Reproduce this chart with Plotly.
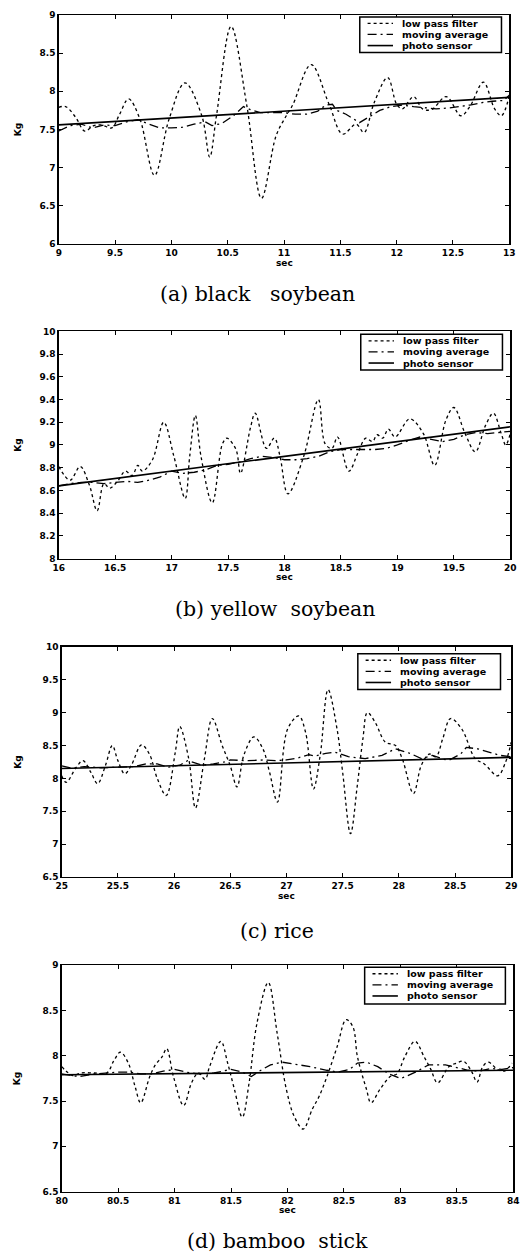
import plotly.graph_objects as go

# ---------------- data ----------------
series_names = ["low pass filter", "moving average", "photo sensor"]
captions = ["(a) black\u00a0\u00a0\u00a0soybean", "(b) yellow\u00a0\u00a0soybean", "(c) rice",
            "(d) bamboo\u00a0\u00a0stick"]

# (a) black soybean
a_lp_t = [9.0, 9.06, 9.15, 9.23, 9.31, 9.38, 9.47, 9.54, 9.62, 9.72, 9.85, 9.98, 10.12, 10.27, 10.34, 10.40,
          10.53, 10.67, 10.80, 10.93, 11.02, 11.08, 11.24, 11.40, 11.52, 11.64, 11.71, 11.80, 11.92, 12.00,
          12.05, 12.15, 12.23, 12.31, 12.44, 12.57, 12.65, 12.77, 12.87, 12.93, 13.0]
a_lp_y = [7.79, 7.80, 7.66, 7.48, 7.55, 7.56, 7.52, 7.70, 7.90, 7.64, 6.90, 7.64, 8.11, 7.68, 7.14, 7.68,
          8.85, 7.81, 6.60, 7.42, 7.68, 7.83, 8.35, 7.83, 7.44, 7.57, 7.46, 7.85, 8.18, 7.83,
          7.77, 7.93, 7.77, 7.76, 7.93, 7.68, 7.80, 8.12, 7.77, 7.68, 7.94]
a_ma_t = [9.0, 9.1, 9.2, 9.3, 9.4, 9.5, 9.6, 9.7, 9.8, 9.9, 10.0, 10.1, 10.2, 10.3, 10.36, 10.45, 10.55,
          10.64, 10.7, 10.79, 10.9, 11.0, 11.1, 11.2, 11.3, 11.37, 11.43, 11.47, 11.55, 11.67, 11.75, 11.85,
          11.95, 12.05, 12.15, 12.25, 12.35, 12.45, 12.55, 12.65, 12.75, 12.85, 12.95, 13.0]
a_ma_y = [7.48, 7.55, 7.57, 7.52, 7.56, 7.55, 7.60, 7.63, 7.57, 7.52, 7.52, 7.53, 7.57, 7.60, 7.55, 7.58, 7.68,
          7.80, 7.76, 7.72, 7.72, 7.72, 7.70, 7.70, 7.74, 7.82, 7.83, 7.75, 7.70, 7.59, 7.66, 7.75,
          7.80, 7.82, 7.80, 7.78, 7.77, 7.78, 7.80, 7.82, 7.85, 7.87, 7.88, 7.95]
a_ps_t = [9.0, 13.0]
a_ps_y = [7.56, 7.92]

# (b) yellow soybean
b_lp_t = [16.0, 16.1, 16.19, 16.27, 16.34, 16.40, 16.45, 16.52, 16.59, 16.65, 16.70, 16.74, 16.83, 16.93,
          17.02, 17.12, 17.16, 17.21, 17.26, 17.36, 17.45, 17.49, 17.57, 17.61, 17.70, 17.74, 17.84, 17.91,
          17.96, 18.03, 18.17, 18.30, 18.36, 18.42, 18.47, 18.57, 18.65, 18.72, 18.78, 18.82, 18.87, 18.92,
          18.98, 19.11, 19.23, 19.33, 19.43, 19.50, 19.60, 19.69, 19.78, 19.85, 19.92, 19.96, 20.0]
b_lp_y = [8.81, 8.69, 8.81, 8.65, 8.42, 8.66, 8.62, 8.68, 8.77, 8.73, 8.82, 8.77, 8.87, 9.20,
          8.90, 8.53, 8.90, 9.26, 8.90, 8.49, 9.01, 9.06, 8.96, 8.75, 9.16, 9.28, 8.97, 9.06,
          8.90, 8.57, 8.90, 9.40, 9.01, 8.97, 9.07, 8.77, 8.93, 9.06, 9.03, 9.09, 9.06, 9.14,
          9.07, 9.23, 9.10, 8.82, 9.22, 9.33, 9.10, 8.94, 9.17, 9.28, 9.10, 9.00, 9.10]
b_ma_t = [16.0, 16.1, 16.2, 16.3, 16.4, 16.5, 16.6, 16.7, 16.8, 16.9, 17.0, 17.1, 17.2, 17.3, 17.4, 17.5,
          17.6, 17.7, 17.8, 17.9, 18.0, 18.1, 18.2, 18.3, 18.4, 18.5, 18.6, 18.7, 18.8, 18.9, 19.0, 19.1,
          19.2, 19.3, 19.4, 19.5, 19.6, 19.7, 19.8, 19.9, 20.0]
b_ma_y = [8.64, 8.66, 8.67, 8.67, 8.66, 8.67, 8.68, 8.67, 8.69, 8.72, 8.77, 8.75, 8.76, 8.78, 8.82, 8.83,
          8.85, 8.88, 8.90, 8.89, 8.87, 8.87, 8.88, 8.90, 8.94, 8.96, 8.96, 8.96, 8.96, 8.97, 9.00, 9.04,
          9.07, 9.05, 9.03, 9.05, 9.09, 9.11, 9.10, 9.11, 9.12]
b_ps_t = [16.0, 20.0]
b_ps_y = [8.64, 9.16]

# (c) rice
c_lp_t = [25.0, 25.04, 25.13, 25.19, 25.26, 25.32, 25.39, 25.45, 25.50, 25.56, 25.62, 25.71, 25.78, 25.85,
          25.93, 26.01, 26.05, 26.13, 26.19, 26.27, 26.34, 26.43, 26.50, 26.56, 26.62, 26.71, 26.79, 26.85,
          26.92, 27.01, 27.11, 27.17, 27.24, 27.30, 27.37, 27.45, 27.50, 27.57, 27.63, 27.68, 27.72, 27.79,
          27.88, 27.97, 28.03, 28.13, 28.20, 28.27, 28.33, 28.39, 28.46, 28.56, 28.68, 28.76, 28.88, 28.95, 29.0]
c_lp_y = [8.04, 7.94, 8.17, 8.27, 8.09, 7.92, 8.20, 8.50, 8.27, 8.07, 8.20, 8.51, 8.37, 8.00,
          7.74, 8.39, 8.79, 8.30, 7.55, 8.30, 8.91, 8.49, 8.19, 7.87, 8.35, 8.63, 8.45, 8.09,
          7.64, 8.75, 8.95, 8.70, 7.84, 8.35, 9.35, 8.75, 8.09, 7.16, 7.89, 8.60, 9.00, 8.85,
          8.55, 8.50, 8.30, 7.77, 8.20, 8.37, 8.33, 8.60, 8.91, 8.75, 8.30, 8.22, 8.04, 8.25, 8.55]
c_ma_t = [25.0, 25.1, 25.2, 25.35, 25.5, 25.65, 25.75, 25.85, 25.95, 26.05, 26.12, 26.25, 26.35, 26.45,
          26.5, 26.65, 26.8, 26.9, 27.0, 27.1, 27.2, 27.25, 27.35, 27.43, 27.55, 27.7, 27.85, 27.97, 28.1,
          28.2, 28.3, 28.4, 28.45, 28.55, 28.6, 28.7, 28.8, 28.9, 29.0]
c_ma_y = [8.19, 8.15, 8.18, 8.16, 8.17, 8.18, 8.22, 8.22, 8.17, 8.20, 8.27, 8.20, 8.22, 8.25,
          8.28, 8.27, 8.28, 8.27, 8.28, 8.31, 8.36, 8.34, 8.38, 8.40, 8.33, 8.30, 8.35, 8.45, 8.38,
          8.30, 8.35, 8.29, 8.28, 8.37, 8.47, 8.45, 8.40, 8.35, 8.33]
c_ps_t = [25.0, 29.0]
c_ps_y = [8.15, 8.32]

# (d) bamboo stick
d_lp_t = [80.0, 80.04, 80.10, 80.17, 80.29, 80.40, 80.46, 80.52, 80.59, 80.65, 80.70, 80.78, 80.83, 80.89,
          80.93, 80.99, 81.08, 81.15, 81.21, 81.27, 81.31, 81.41, 81.47, 81.53, 81.60, 81.66, 81.73, 81.83,
          81.91, 81.99, 82.06, 82.14, 82.22, 82.28, 82.35, 82.44, 82.52, 82.58, 82.62, 82.70, 82.74, 82.82,
          82.91, 82.97, 83.04, 83.13, 83.21, 83.27, 83.33, 83.43, 83.50, 83.56, 83.63, 83.68, 83.73, 83.78,
          83.86, 83.92, 83.99]
d_lp_y = [7.88, 7.83, 7.78, 7.81, 7.81, 7.81, 7.94, 8.04, 7.92, 7.66, 7.48, 7.77, 7.90, 7.99,
          8.08, 7.77, 7.45, 7.70, 7.81, 7.74, 7.88, 8.16, 7.92, 7.63, 7.32, 7.70, 8.36, 8.81,
          8.24, 7.63, 7.33, 7.19, 7.41, 7.55, 7.77, 8.10, 8.40, 8.32, 7.99, 7.63, 7.48, 7.63,
          7.77, 7.80, 7.99, 8.16, 7.99, 7.85, 7.70, 7.88, 7.92, 7.94, 7.83, 7.71, 7.88, 7.93,
          7.85, 7.83, 7.92]
d_ma_t = [80.0, 80.15, 80.3, 80.5, 80.6, 80.7, 80.8, 80.9, 81.0, 81.1, 81.2, 81.35, 81.5, 81.6, 81.68,
          81.75, 81.85, 81.95, 82.1, 82.2, 82.35, 82.45, 82.55, 82.62, 82.7, 82.8, 82.9, 83.0, 83.05,
          83.15, 83.25, 83.4, 83.5, 83.6, 83.7, 83.8, 83.9, 84.0]
d_ma_y = [7.80, 7.77, 7.80, 7.82, 7.82, 7.80, 7.80, 7.83, 7.85, 7.82, 7.80, 7.81, 7.85, 7.82, 7.77,
          7.83, 7.90, 7.93, 7.90, 7.88, 7.84, 7.82, 7.85, 7.92, 7.93, 7.88, 7.80, 7.75, 7.77,
          7.83, 7.90, 7.90, 7.87, 7.84, 7.83, 7.86, 7.85, 7.87]
d_ps_t = [80.0, 84.0]
d_ps_y = [7.79, 7.84]

# axis ranges and ticks
x_ranges = [[9, 13], [16, 20], [25, 29], [80, 84]]
x_tickvals = [[9, 9.5, 10, 10.5, 11, 11.5, 12, 12.5, 13],
              [16, 16.5, 17, 17.5, 18, 18.5, 19, 19.5, 20],
              [25, 25.5, 26, 26.5, 27, 27.5, 28, 28.5, 29],
              [80, 80.5, 81, 81.5, 82, 82.5, 83, 83.5, 84]]
x_ticktext = [["9", "9.5", "10", "10.5", "11", "11.5", "12", "12.5", "13"],
              ["16", "16.5", "17", "17.5", "18", "18.5", "19", "19.5", "20"],
              ["25", "25.5", "26", "26.5", "27", "27.5", "28", "28.5", "29"],
              ["80", "80.5", "81", "81.5", "82", "82.5", "83", "83.5", "84"]]
y_ranges = [[6, 9], [8, 10], [6.5, 10], [6.5, 9]]
y_tickvals = [[6, 6.5, 7, 7.5, 8, 8.5, 9],
              [8, 8.2, 8.4, 8.6, 8.8, 9, 9.2, 9.4, 9.6, 9.8, 10],
              [6.5, 7, 7.5, 8, 8.5, 9, 9.5, 10],
              [6.5, 7, 7.5, 8, 8.5, 9]]
y_ticktext = [["6", "6.5", "7", "7.5", "8", "8.5", "9"],
              ["8", "8.2", "8.4", "8.6", "8.8", "9", "9.2", "9.4", "9.6", "9.8", "10"],
              ["6.5", "7", "7.5", "8", "8.5", "9", "9.5", "10"],
              ["6.5", "7", "7.5", "8", "8.5", "9"]]
x_title = "sec"
y_title = "Kg"

# ---------------- layout geometry (page pixels) ----------------
W, H = 528, 1259
plot_px = [  # left, right, top, bottom
    (54, 515, 10, 241),
    (54, 516, 329, 558),
    (57, 517, 647, 879),
    (57, 519, 968, 1196),
]
legend_box = [  # left, right, top, bottom
    (362, 507, 12, 48),
    (363, 508, 332, 368),
    (360, 506, 654, 690),
    (367, 511, 970, 1007),
]
caption_xy = [(257, 291), (276, 609), (277, 933), (278, 1246)]

SANS = "DejaVu Sans"
SERIF = "DejaVu Serif"


def px(xp):
    return xp / W


def py(yp):
    return 1 - yp / H


panels = [
    (a_lp_t, a_lp_y, a_ma_t, a_ma_y, a_ps_t, a_ps_y),
    (b_lp_t, b_lp_y, b_ma_t, b_ma_y, b_ps_t, b_ps_y),
    (c_lp_t, c_lp_y, c_ma_t, c_ma_y, c_ps_t, c_ps_y),
    (d_lp_t, d_lp_y, d_ma_t, d_ma_y, d_ps_t, d_ps_y),
]
line_styles = [
    dict(color="black", width=1.3, dash="3px,3px"),
    dict(color="black", width=1.3, dash="9px,4px,2px,4px"),
    dict(color="black", width=1.6),
]

fig = go.Figure()
layout = dict(
    width=W, height=H,
    margin=dict(l=0, r=0, t=0, b=0),
    paper_bgcolor="white", plot_bgcolor="white",
    font=dict(family=SANS, color="black"),
    showlegend=False,
    annotations=[], shapes=[],
)

for i, (lt, ly, mt, my, pt, pyy) in enumerate(panels):
    n = "" if i == 0 else str(i + 1)
    xa, ya = "x" + n, "y" + n
    fig.add_trace(go.Scatter(x=lt, y=ly, mode="lines", name=series_names[0], xaxis=xa, yaxis=ya,
                             line=dict(line_styles[0], shape="spline", smoothing=1.0)))
    fig.add_trace(go.Scatter(x=mt, y=my, mode="lines", name=series_names[1], xaxis=xa, yaxis=ya,
                             line=line_styles[1]))
    fig.add_trace(go.Scatter(x=pt, y=pyy, mode="lines", name=series_names[2], xaxis=xa, yaxis=ya,
                             line=line_styles[2]))

    l, r, t, b = plot_px[i]
    axis_common = dict(showgrid=False, zeroline=False, showline=True, linecolor="black", linewidth=1.4,
                       mirror="ticks", ticks="inside", ticklen=4, tickwidth=1, tickcolor="black",
                       tickfont=dict(family=SANS, size=9, weight=700, color="black"))
    layout["xaxis" + n] = dict(axis_common, domain=[px(l), px(r)], anchor=ya, range=x_ranges[i],
                               tickmode="array", tickvals=x_tickvals[i], ticktext=x_ticktext[i])
    layout["yaxis" + n] = dict(axis_common, domain=[py(b), py(t)], anchor=xa, range=y_ranges[i],
                               tickmode="array", tickvals=y_tickvals[i], ticktext=y_ticktext[i])

    # legend box drawn by hand (MATLAB style, compact rows)
    L, R, T, B = legend_box[i]
    layout["shapes"].append(dict(type="rect", xref="paper", yref="paper", x0=px(L), x1=px(R), y0=py(B), y1=py(T),
                                 line=dict(color="black", width=1.5), fillcolor="white", layer="above"))
    for k in range(3):
        yrow = T + 6.5 + 11.2 * k
        layout["shapes"].append(dict(type="line", xref="paper", yref="paper", x0=px(L + 8), x1=px(L + 34),
                                     y0=py(yrow), y1=py(yrow), line=line_styles[k], layer="above"))
        layout["annotations"].append(dict(text=series_names[k], x=px(L + 41), y=py(yrow), xref="paper",
                                          yref="paper", showarrow=False, xanchor="left", yanchor="middle",
                                          font=dict(family=SANS, size=9.5, weight=700)))

    # axis titles
    layout["annotations"].append(dict(text=x_title, x=px((l + r) / 2), y=py(b + 19), xref="paper", yref="paper",
                                      showarrow=False, xanchor="center", yanchor="middle",
                                      font=dict(family=SANS, size=9, weight=700)))
    layout["annotations"].append(dict(text=y_title, x=px(12), y=py((t + b) / 2), xref="paper", yref="paper",
                                      showarrow=False, xanchor="center", yanchor="middle", textangle=-90,
                                      font=dict(family=SANS, size=9, weight=700)))
    cx, cy = caption_xy[i]
    layout["annotations"].append(dict(text=captions[i], x=px(cx), y=py(cy), xref="paper", yref="paper",
                                      showarrow=False, xanchor="center", yanchor="middle",
                                      font=dict(family=SERIF, size=20.5, color="black")))

fig.update_layout(**layout)
# remove the default 8px page margin so the figure fills the 528x1259 window exactly
fig.write_html("out.html",
               config={"displayModeBar": False, "staticPlot": True},
               post_script="document.body.style.margin='0px';document.body.style.overflow='hidden';")
